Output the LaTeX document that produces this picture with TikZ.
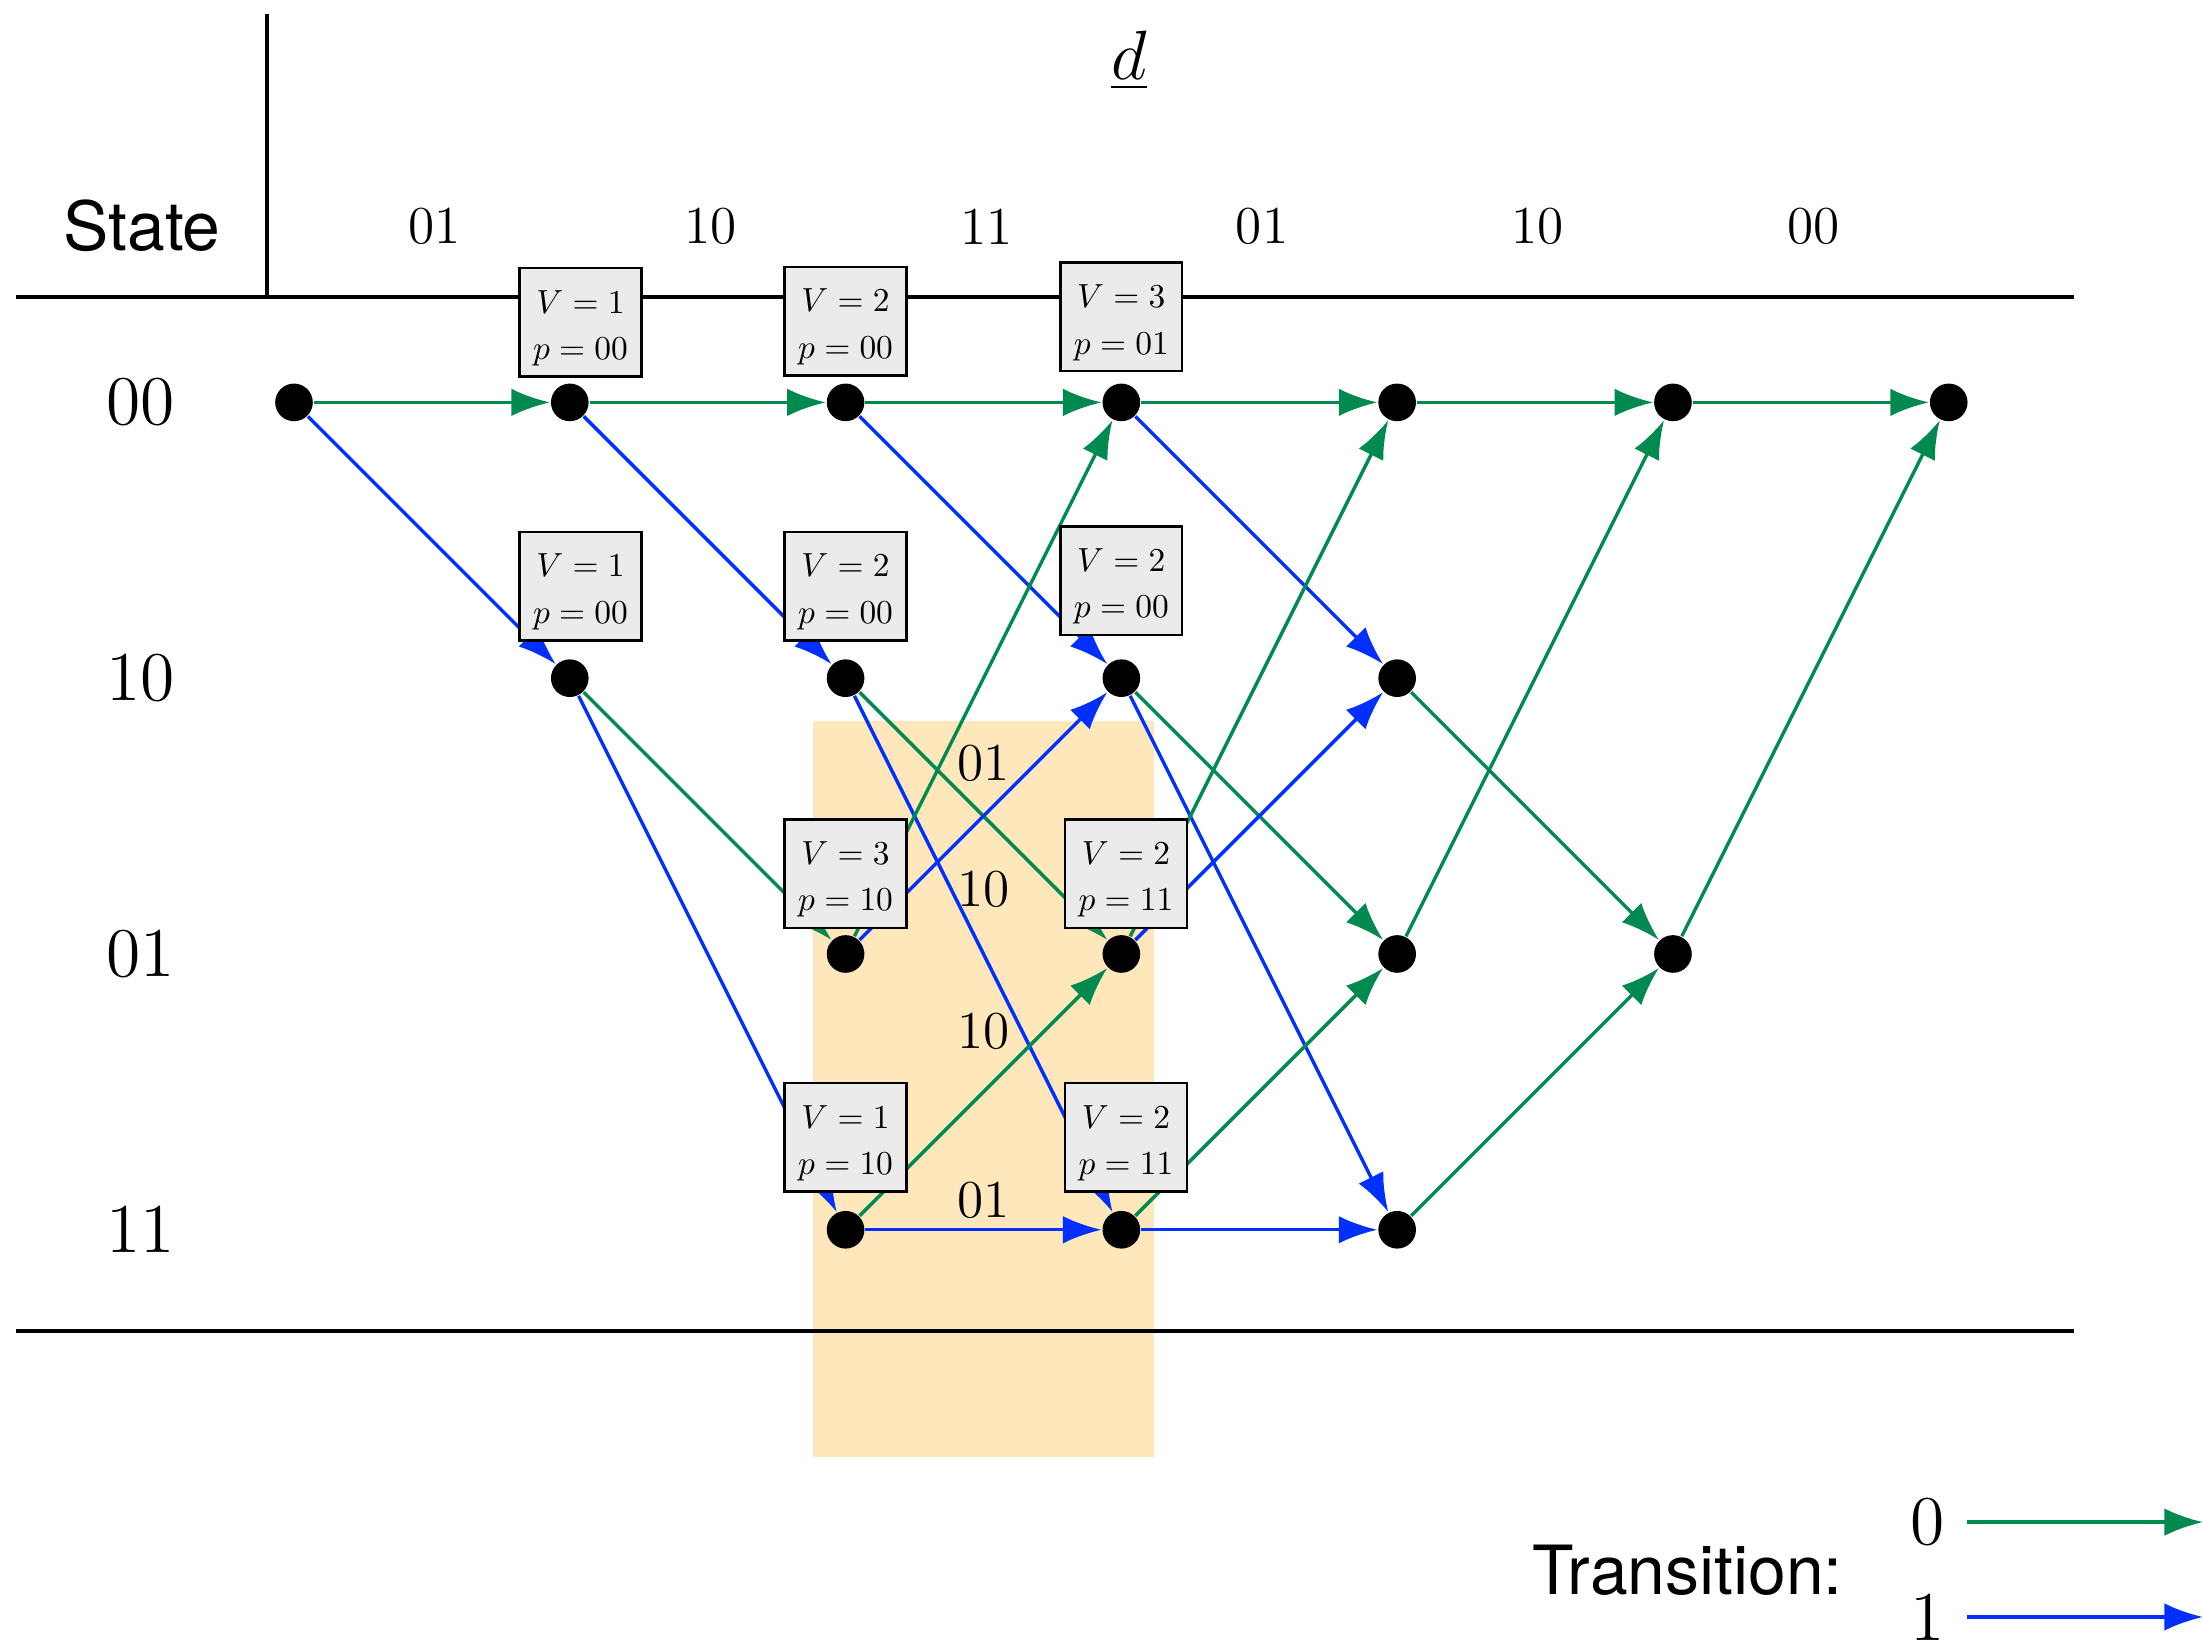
\documentclass[tikz,border=0pt]{standalone}
\usepackage{fontspec}
\newfontfamily\helv{TeX Gyre Heros}
\usepackage{graphicx}
\usepackage{tikz}
\usetikzlibrary{arrows.meta,positioning}
\definecolor{zerogreen}{RGB}{0,138,80}
\definecolor{oneblue}{RGB}{0,48,255}
\definecolor{survivor}{RGB}{253,231,187}
\definecolor{metricgray}{RGB}{235,235,235}
\newcommand{\vp}[2]{\rule{0pt}{7.1pt}\scalebox{0.69}{$V=#1$}\\\scalebox{0.69}{$p=#2$}}

\begin{document}
\begin{tikzpicture}[x=2cm,y=2cm,
  stnode/.style={circle,fill=black,inner sep=0pt,minimum size=2.73mm},
  bitzero/.style={zerogreen,line width=0.7pt,-{Latex[length=2.8mm,width=2mm]}},
  bitone/.style={oneblue,line width=0.7pt,-{Latex[length=2.8mm,width=2mm]}},
  metric/.style={draw,fill=metricgray,line width=0.5pt,minimum width=8.83mm,minimum height=7.87mm,inner sep=0pt,align=center,font=\fontsize{10}{9.6}\selectfont},
  bits/.style={text=black,font=\fontsize{11}{13}\selectfont},
  big/.style={font=\fontsize{14.4}{17}\selectfont},
  sans/.style={font=\helv\fontsize{14}{17}\selectfont}]
\useasboundingbox (-1.066,-4.517) rectangle (6.922,1.459);
\fill[survivor] (1.882,-1.156) rectangle (3.118,-3.824);
\draw[line width=0.8pt] (-1.008,0.383) -- (6.454,0.383); \draw[line width=0.8pt] (-1.008,-3.366) -- (6.454,-3.366);
\draw[line width=0.7pt] (-0.098,0.383) -- (-0.098,1.41);

\node[sans] (hdr) at (-0.551,0.639) {State};
\node[big] (dvec) at (3.028,1.24) {$\underline{d}$};
\foreach \lbl [count=\i] in {01,10,11,01,10,00} \node[bits] (rx\i) at (\i-0.49,0.637) {\lbl};
\node[big] (lab00) at (-0.555,0) {00}; \node[big] (lab10) at (-0.555,-1) {10};
\node[big] (lab01) at (-0.555,-2) {01}; \node[big] (lab11) at (-0.555,-3) {11};

\node[stnode] (s00-0) at (0,0) {};
\foreach \t in {1,...,6} \node[stnode] (s00-\t) at (\t,0) {};
\foreach \t in {1,...,4} \node[stnode] (s10-\t) at (\t,-1) {};
\foreach \t in {2,...,5} \node[stnode] (s01-\t) at (\t,-2) {};
\foreach \t in {2,...,4} \node[stnode] (s11-\t) at (\t,-3) {};

\draw[bitzero] (s00-0) -- (s00-1); \draw[bitone] (s00-0) -- (s10-1);
\draw[bitzero] (s00-1) -- (s00-2); \draw[bitone] (s00-1) -- (s10-2);
\draw[bitzero] (s10-1) -- (s01-2); \draw[bitone] (s10-1) -- (s11-2);
\draw[bitzero] (s00-2) -- (s00-3); \draw[bitone] (s00-2) -- (s10-3);
\draw[bitzero] (s10-2) -- (s01-3) node[bits,midway,yshift=0.38cm] {01}; \draw[bitone] (s10-2) -- (s11-3);
\draw[bitzero] (s01-2) -- (s00-3); \draw[bitone] (s01-2) -- (s10-3) node[bits,midway,yshift=-0.53cm] {10};
\draw[bitzero] (s11-2) -- (s01-3) node[bits,midway,yshift=0.44cm] {10}; \draw[bitone] (s11-2) -- (s11-3) node[bits,midway,yshift=0.21cm] {01};
\draw[bitzero] (s00-3) -- (s00-4); \draw[bitone] (s00-3) -- (s10-4);
\draw[bitzero] (s10-3) -- (s01-4); \draw[bitone] (s10-3) -- (s11-4);
\draw[bitzero] (s01-3) -- (s00-4); \draw[bitone] (s01-3) -- (s10-4);
\draw[bitzero] (s11-3) -- (s01-4); \draw[bitone] (s11-3) -- (s11-4);
\draw[bitzero] (s00-4) -- (s00-5); \draw[bitzero] (s10-4) -- (s01-5);
\draw[bitzero] (s01-4) -- (s00-5); \draw[bitzero] (s11-4) -- (s01-5);
\draw[bitzero] (s00-5) -- (s00-6); \draw[bitzero] (s01-5) -- (s00-6);

\node[metric] (m00-1) at (1.039,0.29) {\vp{1}{00}};
\node[metric] (m00-2) at (2.0,0.295) {\vp{2}{00}};
\node[metric] (m00-3) at (3.0,0.31) {\vp{3}{01}};
\node[metric] (m10-1) at (1.039,-0.666) {\vp{1}{00}};
\node[metric] (m10-2) at (2.0,-0.666) {\vp{2}{00}};
\node[metric] (m10-3) at (3.0,-0.646) {\vp{2}{00}};
\node[metric] (m01-2) at (2.0,-1.709) {\vp{3}{10}};
\node[metric] (m01-3) at (3.017,-1.709) {\vp{2}{11}};
\node[metric] (m11-2) at (2.0,-2.665) {\vp{1}{10}};
\node[metric] (m11-3) at (3.017,-2.665) {\vp{2}{11}};

\node[sans] (legend) at (5.053,-4.234) {Transition:};
\node[big] (leg0) at (5.922,-4.06) {0}; \node[big] (leg1) at (5.922,-4.404) {1};
\coordinate (z0) at (6.066,-4.06); \coordinate (z0e) at (6.922,-4.06);
\coordinate (z1) at (6.066,-4.404); \coordinate (z1e) at (6.922,-4.404);
\draw[bitzero] (z0) -- (z0e); \draw[bitone] (z1) -- (z1e);
\end{tikzpicture}
\end{document}
